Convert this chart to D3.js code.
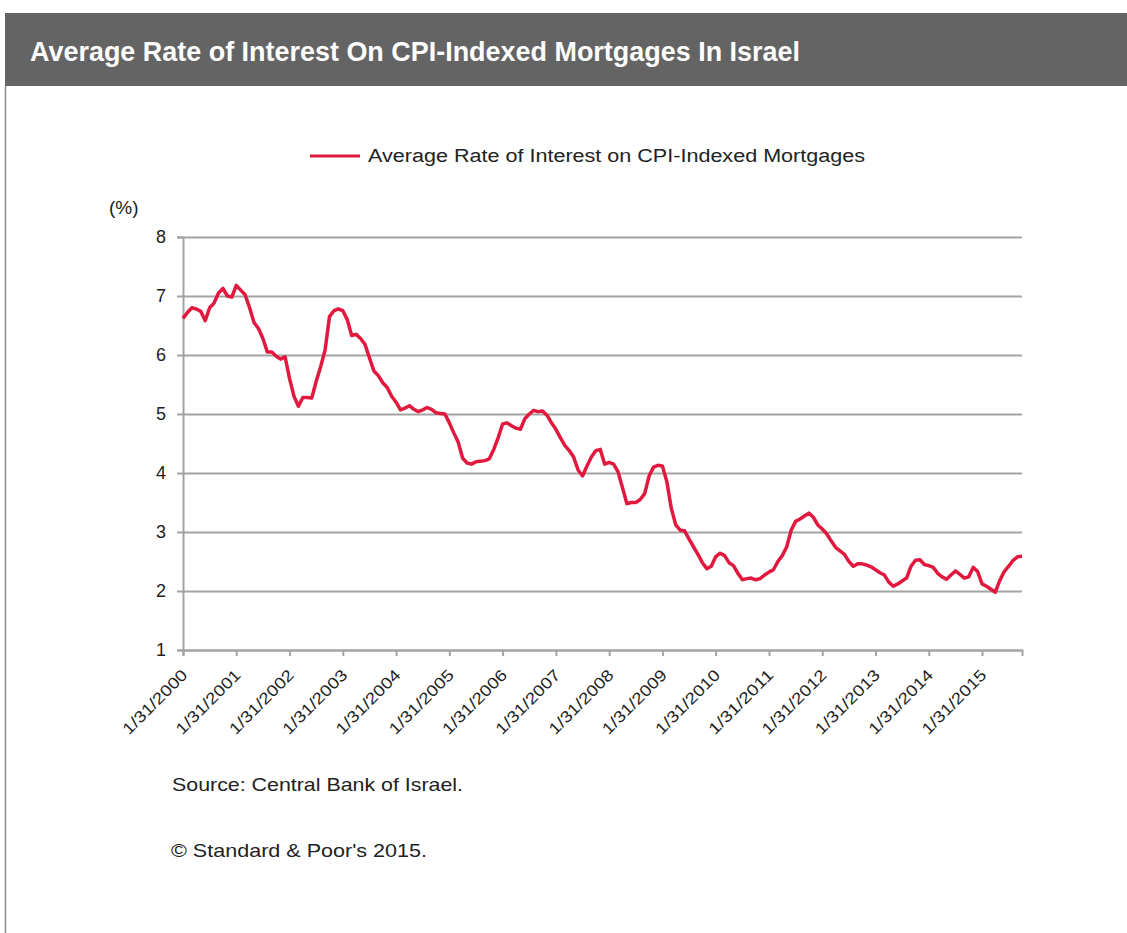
<!DOCTYPE html>
<html>
<head>
<meta charset="utf-8">
<script src="https://cdn.jsdelivr.net/npm/d3@7"></script>
<style>
  body { margin: 0; background: #fff; }
  svg { display: block; font-family: "Liberation Sans", Arial, sans-serif; }
</style>
</head>
<body>
<div id="chart"></div>
<script>
const width = 1127;
const height = 933;

// monthly data, Jan 2000 - Oct 2015
const months = d3.timeMonth.range(new Date(2000, 0, 1), new Date(2015, 10, 1));
const xTickLabels = ["1/31/2000", "1/31/2001", "1/31/2002", "1/31/2003", "1/31/2004", "1/31/2005",
  "1/31/2006", "1/31/2007", "1/31/2008", "1/31/2009", "1/31/2010", "1/31/2011", "1/31/2012",
  "1/31/2013", "1/31/2014", "1/31/2015"];
const yTicks = [1, 2, 3, 4, 5, 6, 7, 8];
const seriesName = "Average Rate of Interest on CPI-Indexed Mortgages";

// average rate (%)
const rates = [
  6.62, 6.72, 6.80, 6.78, 6.74, 6.58, 6.80, 6.88, 7.05, 7.13, 7.00, 6.98,
  7.18, 7.10, 7.02, 6.80, 6.55, 6.45, 6.28, 6.05, 6.05, 5.98, 5.93, 5.97,
  5.60, 5.30, 5.13, 5.28, 5.28, 5.27, 5.55, 5.80, 6.08, 6.65, 6.75, 6.78,
  6.75, 6.60, 6.33, 6.35, 6.28, 6.18, 5.95, 5.73, 5.65, 5.53, 5.45, 5.30,
  5.20, 5.07, 5.10, 5.14, 5.08, 5.04, 5.07, 5.11, 5.08, 5.02, 5.01, 5.00,
  4.85, 4.68, 4.52, 4.25, 4.17, 4.15, 4.19, 4.20, 4.21, 4.24, 4.40, 4.60,
  4.83, 4.85, 4.80, 4.76, 4.74, 4.92, 5.00, 5.06, 5.04, 5.05, 4.98, 4.85,
  4.74, 4.60, 4.47, 4.38, 4.27, 4.05, 3.95, 4.12, 4.27, 4.38, 4.40, 4.15,
  4.18, 4.15, 4.02, 3.75, 3.48, 3.50, 3.50, 3.55, 3.65, 3.95, 4.10, 4.13,
  4.12, 3.85, 3.40, 3.12, 3.03, 3.02, 2.88, 2.75, 2.62, 2.48, 2.38, 2.42,
  2.58, 2.64, 2.60, 2.48, 2.43, 2.30, 2.19, 2.21, 2.22, 2.19, 2.21, 2.27,
  2.32, 2.36, 2.50, 2.60, 2.75, 3.03, 3.18, 3.22, 3.27, 3.32, 3.25, 3.12,
  3.05, 2.97, 2.85, 2.74, 2.68, 2.62, 2.50, 2.42, 2.46, 2.46, 2.44, 2.41,
  2.36, 2.31, 2.27, 2.15, 2.08, 2.12, 2.17, 2.22, 2.42, 2.52, 2.53, 2.45,
  2.43, 2.40, 2.30, 2.24, 2.20, 2.27, 2.34, 2.28, 2.22, 2.24, 2.40, 2.33,
  2.12, 2.08, 2.03, 1.98, 2.18, 2.33, 2.42, 2.52, 2.58, 2.59
];

const data = months.map((m, i) => ({ month: m, value: rates[i] }));

const svg = d3.select("#chart").append("svg")
  .attr("width", width)
  .attr("height", height);

// title bar
svg.append("rect")
  .attr("x", 5).attr("y", 13)
  .attr("width", width - 5).attr("height", 73)
  .attr("fill", "#646464");
svg.append("text")
  .attr("x", 30).attr("y", 61)
  .attr("fill", "#fff")
  .attr("font-size", 28)
  .attr("font-weight", "bold")
  .attr("textLength", 770)
  .attr("lengthAdjust", "spacingAndGlyphs")
  .text("Average Rate of Interest On CPI-Indexed Mortgages In Israel");

// left border
svg.append("line")
  .attr("x1", 5.5).attr("x2", 5.5)
  .attr("y1", 86).attr("y2", height)
  .attr("stroke", "#8a8a8a").attr("stroke-width", 1.5);

const plot = { left: 183, right: 1022, top: 237, bottom: 650 };

const x = d3.scalePoint()
  .domain(months.map(m => +m))
  .range([plot.left, plot.right]);

const y = d3.scaleLinear()
  .domain([1, 8])
  .range([plot.bottom, plot.top]);

// gridlines
svg.append("g")
  .attr("transform", `translate(${plot.left},0)`)
  .call(d3.axisLeft(y).tickValues(yTicks).tickSize(-(plot.right - plot.left)).tickFormat(""))
  .call(g => g.select(".domain").remove())
  .selectAll("line")
  .attr("stroke", "#a3a3a3")
  .attr("stroke-width", 2);

// y axis
const yAxis = svg.append("g")
  .attr("transform", `translate(${plot.left},0)`)
  .call(d3.axisLeft(y).tickValues(yTicks).tickSize(6).tickPadding(11).tickFormat(d3.format("d")));
yAxis.select(".domain").attr("stroke", "#a3a3a3").attr("stroke-width", 2);
yAxis.selectAll("line").attr("stroke", "#a3a3a3").attr("stroke-width", 2);
yAxis.selectAll("text")
  .attr("font-size", 18)
  .attr("fill", "#222");

// x axis
const janTicks = months.filter(m => m.getMonth() === 0).map(m => +m);
const xAxis = svg.append("g")
  .attr("transform", `translate(0,${plot.bottom})`)
  .call(d3.axisBottom(x).tickValues(janTicks).tickSize(6)
    .tickFormat((d, i) => xTickLabels[i]));
xAxis.select(".domain").attr("stroke", "#a3a3a3").attr("stroke-width", 2);
xAxis.selectAll("line").attr("stroke", "#a3a3a3").attr("stroke-width", 2);
xAxis.selectAll("text")
  .attr("x", 0).attr("y", 0).attr("dy", 0)
  .attr("transform", "translate(5,26) rotate(-45)")
  .attr("text-anchor", "end")
  .attr("font-size", 16)
  .attr("textLength", 84)
  .attr("lengthAdjust", "spacingAndGlyphs")
  .attr("fill", "#222");

// unit label
svg.append("text")
  .attr("x", 109).attr("y", 214)
  .attr("font-size", 19)
  .attr("fill", "#222")
  .text("(%)");

// series line
const line = d3.line()
  .x(d => x(+d.month))
  .y(d => y(d.value));

svg.append("path")
  .datum(data)
  .attr("fill", "none")
  .attr("stroke", "#e2193f")
  .attr("stroke-width", 3.5)
  .attr("stroke-linejoin", "round")
  .attr("d", line);

// legend
svg.append("line")
  .attr("x1", 310).attr("x2", 360)
  .attr("y1", 156).attr("y2", 156)
  .attr("stroke", "#e2193f")
  .attr("stroke-width", 3);
svg.append("text")
  .attr("x", 368).attr("y", 162)
  .attr("font-size", 18)
  .attr("fill", "#222")
  .attr("textLength", 497)
  .attr("lengthAdjust", "spacingAndGlyphs")
  .text(seriesName);

// notes
svg.append("text")
  .attr("x", 172).attr("y", 791)
  .attr("font-size", 19)
  .attr("fill", "#222")
  .attr("textLength", 291)
  .attr("lengthAdjust", "spacingAndGlyphs")
  .text("Source: Central Bank of Israel.");
svg.append("text")
  .attr("x", 171).attr("y", 857)
  .attr("font-size", 19)
  .attr("fill", "#222")
  .attr("textLength", 256)
  .attr("lengthAdjust", "spacingAndGlyphs")
  .text("© Standard & Poor's 2015.");
</script>
</body>
</html>
